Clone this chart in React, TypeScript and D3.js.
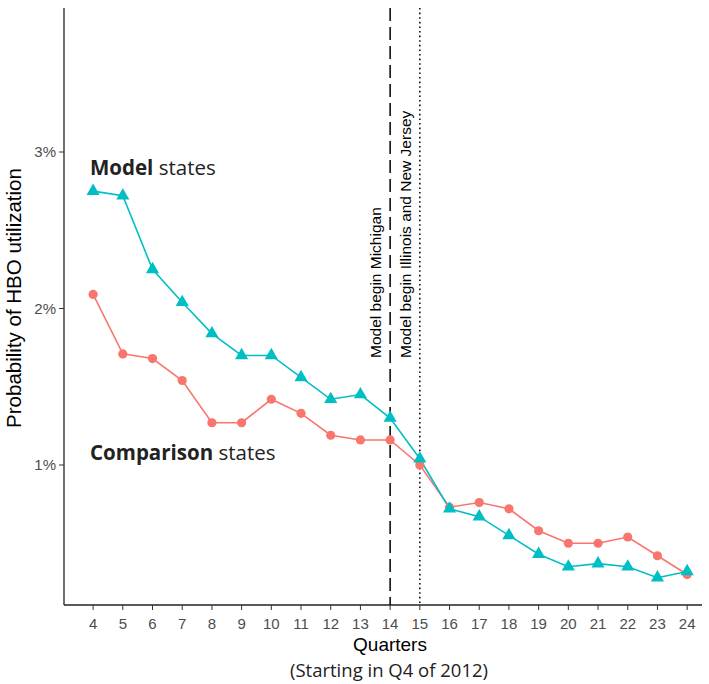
import React from "react";
import * as d3 from "d3";

const quarters = [4, 5, 6, 7, 8, 9, 10, 11, 12, 13, 14, 15, 16, 17, 18, 19, 20, 21, 22, 23, 24];
const modelStates = [2.75, 2.72, 2.25, 2.04, 1.84, 1.7, 1.7, 1.56, 1.42, 1.45, 1.3, 1.04, 0.72, 0.67, 0.55, 0.43, 0.35, 0.37, 0.35, 0.28, 0.32];
const comparisonStates = [2.09, 1.71, 1.68, 1.54, 1.27, 1.27, 1.42, 1.33, 1.19, 1.16, 1.16, 1.0, 0.73, 0.76, 0.72, 0.58, 0.5, 0.5, 0.54, 0.42, 0.3];
const yTicks = [1, 2, 3];
const events = [
  { q: 14, label: "Model begin Michigan", dash: "13,6" },
  { q: 15, label: "Model begin Illinois and New Jersey", dash: "1.6,3" },
];

const W = 709;
const H = 684;
const left = 64;
const right = 702;
const top = 8;
const bottom = 605;

const TEAL = "#00BFC4";
const RED = "#F8766D";
const SANS = "'Liberation Sans', Arial, sans-serif";
const OPEN = "'Open Sans', sans-serif";

export default function App() {
  const x = d3.scaleLinear().domain([3.02, 24.5]).range([left, right]);
  const y = d3.scaleLinear().domain([1, 3]).range([465, 152]);

  const line = d3
    .line<number>()
    .x((_, i) => x(quarters[i]))
    .y((d) => y(d));

  const tri = d3.symbol().type(d3.symbolTriangle).size(75)();

  return (
    <svg width={W} height={H} style={{ position: "absolute", left: 0, top: 0, background: "#fff" }}>
      {/* axes */}
      <line x1={left} x2={left} y1={top} y2={bottom} stroke="#222" strokeWidth={1.3} />
      <line x1={left} x2={right} y1={bottom} y2={bottom} stroke="#222" strokeWidth={1.3} />
      {yTicks.map((t) => (
        <g key={t}>
          <line x1={left - 5} x2={left} y1={y(t)} y2={y(t)} stroke="#333" />
          <text x={left - 8} y={y(t)} dy="0.36em" textAnchor="end" fontSize={15} fill="#4d4d4d" fontFamily={SANS}>
            {t}%
          </text>
        </g>
      ))}
      {quarters.map((q) => (
        <g key={q}>
          <line x1={x(q)} x2={x(q)} y1={bottom} y2={bottom + 5} stroke="#333" />
          <text x={x(q)} y={bottom + 24} textAnchor="middle" fontSize={15} fill="#4d4d4d" fontFamily={SANS}>
            {q}
          </text>
        </g>
      ))}

      {/* event lines */}
      {events.map((e) => (
        <g key={e.q}>
          <line x1={x(e.q)} x2={x(e.q)} y1={top} y2={bottom} stroke="#000" strokeWidth={1.5} strokeDasharray={e.dash} />
          <text
            transform={`translate(${x(e.q) - 9},358) rotate(-90)`}
            fontSize={15.5}
            fill="#000"
            fontFamily={SANS}
          >
            {e.label}
          </text>
        </g>
      ))}

      {/* series */}
      <path d={line(comparisonStates) || ""} fill="none" stroke={RED} strokeWidth={1.6} />
      <path d={line(modelStates) || ""} fill="none" stroke={TEAL} strokeWidth={1.6} />
      {comparisonStates.map((v, i) => (
        <circle key={i} cx={x(quarters[i])} cy={y(v)} r={4.6} fill={RED} />
      ))}
      {modelStates.map((v, i) => (
        <path key={i} d={tri || ""} transform={`translate(${x(quarters[i])},${y(v)})`} fill={TEAL} />
      ))}

      {/* series labels */}
      <text x={90} y={175} fontSize={20.5} fill="#222" fontFamily={OPEN}>
        <tspan fontWeight="bold">Model</tspan> states
      </text>
      <text x={90} y={460} fontSize={20.5} fill="#222" fontFamily={OPEN}>
        <tspan fontWeight="bold">Comparison</tspan> states
      </text>

      {/* axis titles */}
      <text
        transform={`translate(21,298) rotate(-90)`}
        textAnchor="middle"
        fontSize={20.5}
        fill="#000"
        fontFamily={SANS}
      >
        Probability of HBO utilization
      </text>
      <text x={390} y={651} textAnchor="middle" fontSize={19} fill="#000" fontFamily={SANS}>
        Quarters
      </text>
      <text x={389} y={677} textAnchor="middle" fontSize={18.5} fill="#222" fontFamily={OPEN}>
        (Starting in Q4 of 2012)
      </text>
    </svg>
  );
}
